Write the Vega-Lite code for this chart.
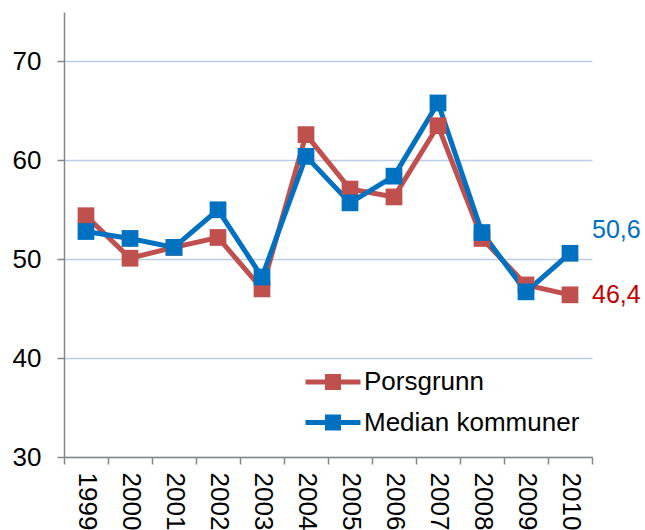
{
  "$schema": "https://vega.github.io/schema/vega-lite/v6.json",
  "width": 528,
  "height": 445,
  "autosize": {"type": "none"},
  "padding": {"left": 64, "top": 12, "right": 53, "bottom": 73},
  "background": "white",
  "config": {
    "view": {"stroke": null},
    "font": "Liberation Sans",
    "axis": {"labelFont": "Liberation Sans", "labelColor": "#000000"}
  },
  "data": {
    "values": [
      {"year": "1999", "series": "Porsgrunn", "value": 54.4},
      {"year": "2000", "series": "Porsgrunn", "value": 50.1},
      {"year": "2001", "series": "Porsgrunn", "value": 51.2},
      {"year": "2002", "series": "Porsgrunn", "value": 52.2},
      {"year": "2003", "series": "Porsgrunn", "value": 47.0},
      {"year": "2004", "series": "Porsgrunn", "value": 62.6},
      {"year": "2005", "series": "Porsgrunn", "value": 57.1},
      {"year": "2006", "series": "Porsgrunn", "value": 56.3},
      {"year": "2007", "series": "Porsgrunn", "value": 63.5},
      {"year": "2008", "series": "Porsgrunn", "value": 52.1},
      {"year": "2009", "series": "Porsgrunn", "value": 47.4},
      {"year": "2010", "series": "Porsgrunn", "value": 46.4, "label": "46,4"},
      {"year": "1999", "series": "Median kommuner", "value": 52.8},
      {"year": "2000", "series": "Median kommuner", "value": 52.1},
      {"year": "2001", "series": "Median kommuner", "value": 51.2},
      {"year": "2002", "series": "Median kommuner", "value": 55.0},
      {"year": "2003", "series": "Median kommuner", "value": 48.2},
      {"year": "2004", "series": "Median kommuner", "value": 60.4},
      {"year": "2005", "series": "Median kommuner", "value": 55.7},
      {"year": "2006", "series": "Median kommuner", "value": 58.4},
      {"year": "2007", "series": "Median kommuner", "value": 65.8},
      {"year": "2008", "series": "Median kommuner", "value": 52.7},
      {"year": "2009", "series": "Median kommuner", "value": 46.7},
      {"year": "2010", "series": "Median kommuner", "value": 50.6, "label": "50,6"}
    ]
  },
  "encoding": {
    "x": {
      "field": "year",
      "type": "ordinal",
      "scale": {"type": "band", "paddingInner": 0, "paddingOuter": 0},
      "axis": {
        "title": null,
        "labelAngle": 90,
        "labelAlign": "left",
        "labelBaseline": "middle",
        "labelFontSize": 26,
        "labelPadding": 8,
        "tickBand": "extent",
        "tickSize": 7,
        "tickColor": "#868686",
        "tickWidth": 1.5,
        "domainColor": "#868686",
        "domainWidth": 1.5,
        "grid": false
      }
    },
    "y": {
      "field": "value",
      "type": "quantitative",
      "scale": {"domain": [30, 75], "nice": false, "zero": false},
      "axis": {
        "title": null,
        "values": [30, 40, 50, 60, 70],
        "labelFontSize": 26,
        "labelPadding": 16,
        "tickSize": 7,
        "tickColor": "#868686",
        "tickWidth": 1.5,
        "domainColor": "#868686",
        "domainWidth": 1.5,
        "grid": true,
        "gridColor": "#B9CDE5",
        "gridWidth": 1.5
      }
    }
  },
  "layer": [
    {
      "mark": {"type": "line", "strokeWidth": 5},
      "encoding": {
        "color": {
          "field": "series",
          "type": "nominal",
          "scale": {"domain": ["Porsgrunn", "Median kommuner"], "range": ["#C0504D", "#0070C0"]},
          "legend": {
            "title": null,
            "orient": "none",
            "legendX": 255,
            "legendY": 356,
            "padding": 0,
            "symbolType": "M-2,-0.18H2V0.18H-2Z M-0.58,-0.58H0.58V0.58H-0.58Z",
            "symbolSize": 756,
            "symbolStrokeWidth": 0,
            "labelFontSize": 26,
            "labelFont": "Liberation Sans",
            "labelColor": "#000000",
            "labelOffset": 17,
            "rowPadding": 13.5,
            "labelLimit": 400,
            "encode": {
              "symbols": {
                "update": {
                  "fill": {"scale": "color", "field": "value"},
                  "fillOpacity": {"value": 1},
                  "strokeWidth": {"value": 0}
                }
              }
            }
          }
        },
        "detail": {"field": "series"}
      }
    },
    {
      "mark": {"type": "point", "shape": "square", "filled": true, "size": 280, "opacity": 1},
      "encoding": {
        "color": {"field": "series", "type": "nominal"}
      }
    },
    {
      "transform": [{"filter": "datum.year == '2010' && datum.series == 'Median kommuner'"}],
      "mark": {"type": "text", "align": "left", "baseline": "middle", "dx": 22, "dy": -23, "fontSize": 25, "font": "Liberation Sans", "color": "#0070C0"},
      "encoding": {"text": {"field": "label"}}
    },
    {
      "transform": [{"filter": "datum.year == '2010' && datum.series == 'Porsgrunn'"}],
      "mark": {"type": "text", "align": "left", "baseline": "middle", "dx": 22, "dy": 0, "fontSize": 25, "font": "Liberation Sans", "color": "#C00000"},
      "encoding": {"text": {"field": "label"}}
    }
  ]
}
